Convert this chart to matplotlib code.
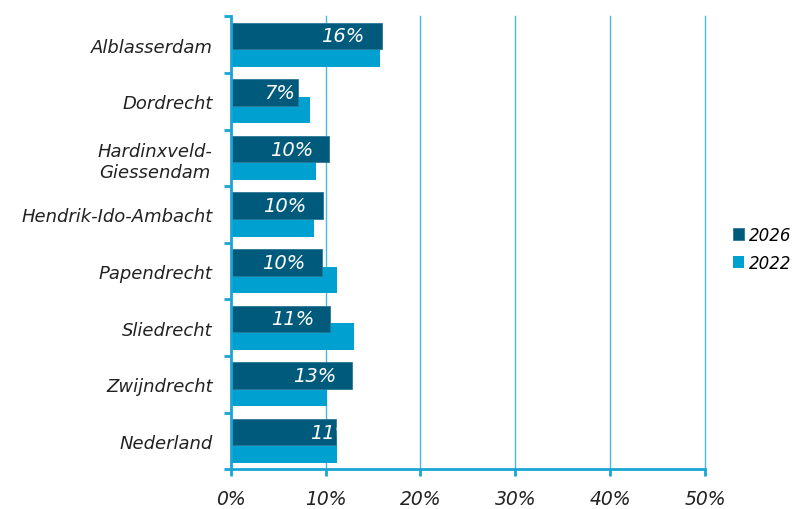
import matplotlib.pyplot as plt
import numpy as np

plt.rcParams['font.family'] = ['DejaVu Sans']

gemeenten = ['Alblasserdam', 'Dordrecht', 'Hardinxveld-\nGiessendam', 'Hendrik-Ido-Ambacht',
             'Papendrecht', 'Sliedrecht', 'Zwijndrecht', 'Nederland']
v2026 = [15.9, 7.1, 10.4, 9.7, 9.6, 10.5, 12.8, 11.1]
v2022 = [15.7, 8.4, 9.0, 8.8, 11.2, 13.0, 10.1, 11.2]
labels2026 = ['16%', '7%', '10%', '10%', '10%', '11%', '13%', '11%']
# label centre offsets (in % units) from bar end
lab_off = [-4.1, -1.9, -4.0, -4.0, -4.0, -4.0, -4.0, -0.5]

c26 = '#005A7C'
c22 = '#00A0D1'
axc = '#1AA5D6'

fig = plt.figure(figsize=(7.93, 5.10), dpi=100)
ax = fig.add_axes([0.291, 0.078, 0.598, 0.888])

y = np.arange(len(gemeenten))
h = 0.47
ax.barh(y + 0.155, v2022, height=h, color=c22, zorder=2, label='2022')
bars = ax.barh(y - 0.155, v2026, height=h, color=c26, edgecolor='#2C7896', linewidth=0.6,
               zorder=3, label='2026')

for b, v, t, o in zip(bars, v2026, labels2026, lab_off):
    txt = ax.text(v + o, b.get_y() + b.get_height() / 2, t, color='white', style='italic',
                  fontsize=14, ha='center', va='center', zorder=4)
    txt.set_clip_path(b)

ax.set_ylim(len(gemeenten) - 0.5, -0.5)
ax.set_xlim(0, 50)
ax.set_xticks(range(0, 51, 10))
ax.set_xticklabels([f'{x}%' for x in range(0, 51, 10)], style='italic', fontsize=13.5, color='#222222')
ax.set_yticks(y)
ax.set_yticklabels(gemeenten, style='italic', fontsize=13, color='#222222', ma='center')
ax.set_yticks(np.arange(-0.5, len(gemeenten)), minor=True)
ax.tick_params(axis='y', which='major', length=0, pad=13)
ax.tick_params(axis='y', which='minor', length=5, width=2, color=axc)
ax.tick_params(axis='x', length=5, width=2, color=axc, pad=9)

for x in range(10, 51, 10):
    ax.axvline(x, color='#48B8DF', lw=1, zorder=1, clip_on=False)

for s in ['top', 'right']:
    ax.spines[s].set_visible(False)
for s in ['left', 'bottom']:
    ax.spines[s].set_color(axc)
    ax.spines[s].set_linewidth(2)
    ax.spines[s].set_zorder(5)

handles, labs = ax.get_legend_handles_labels()
leg = fig.legend(handles[::-1], labs[::-1], loc='center left', bbox_to_anchor=(0.905, 0.51),
                 frameon=False, handlelength=0.7, handleheight=0.7, handletextpad=0.3,
                 labelspacing=0.6, prop={'style': 'italic', 'size': 12})

fig.savefig('out.png', dpi=100)
